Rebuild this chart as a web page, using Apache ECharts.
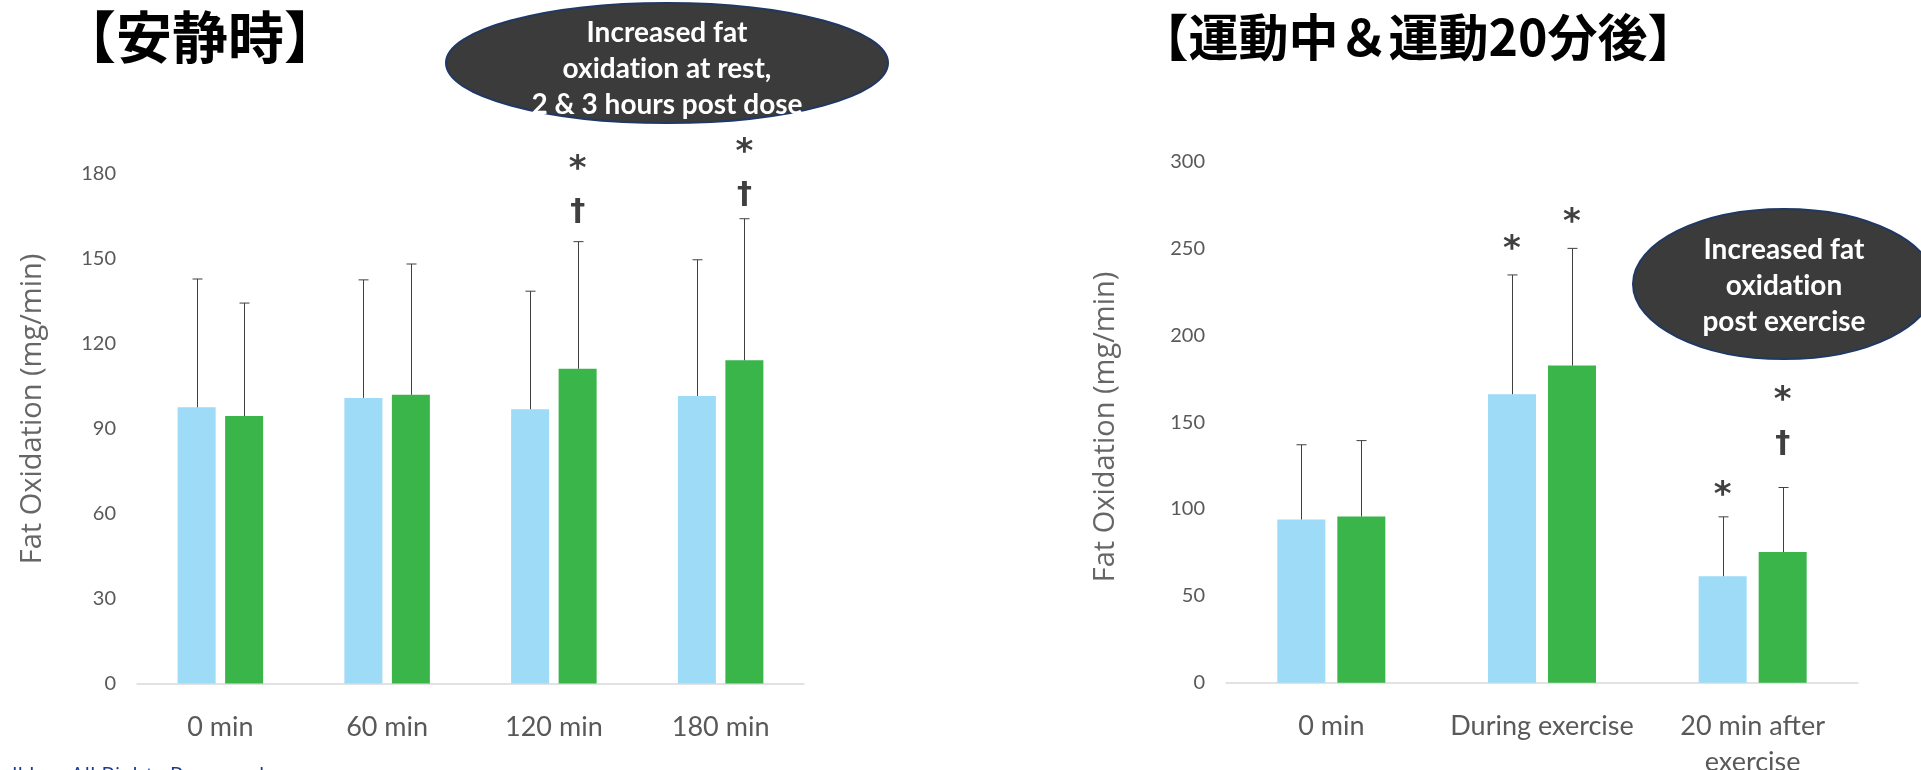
<!DOCTYPE html>
<html><head><meta charset="utf-8">
<script src="https://cdn.jsdelivr.net/npm/echarts@6/dist/echarts.min.js"></script>
<style>html,body{margin:0;padding:0;background:#fff}#c{width:1921px;height:770px}</style>
</head><body><div id="c"></div>
<script>
// ---------- data ----------
const restCategories = ['0 min', '60 min', '120 min', '180 min'];
const restPlacebo = [97.6, 100.9, 96.9, 101.6];
const restPlaceboSD = [45.3, 41.7, 41.7, 48.1];
const restSupplement = [94.5, 102.0, 111.2, 114.2];
const restSupplementSD = [39.9, 46.2, 44.9, 50.0];
const restTicks = [0, 30, 60, 90, 120, 150, 180];

const exCategories = ['0 min', 'During exercise', '20 min after\nexercise'];
const exPlacebo = [94.0, 166.1, 61.3];
const exPlaceboSD = [43.0, 68.7, 34.2];
const exSupplement = [95.7, 182.6, 75.2];
const exSupplementSD = [43.7, 67.5, 37.2];
const exTicks = [0, 50, 100, 150, 200, 250, 300];

// significance marks: [category index, bar (0 = light blue, 1 = green), symbol, level on value axis]
const restMarks = [[2, 1, '*', 183.7], [2, 1, '†', 167.2], [3, 1, '*', 189.9], [3, 1, '†', 173.3]];
const exMarks = [[1, 0, '*', 252.7], [1, 1, '*', 268.5], [2, 0, '*', 111.5], [2, 1, '*', 166.3], [2, 1, '†', 138.9]];

const restTitle = '【安静時】';
const exTitle = '【運動中＆運動20分後】';
const restNote = ['Increased fat', 'oxidation at rest,', '2 & 3 hours post dose'];
const exNote = ['Increased fat', 'oxidation', 'post exercise'];
const yName = 'Fat Oxidation (mg/min)';
const footer = 'll Inc. All Rights Reserved.';

// ---------- styles ----------
const BLUE = '#9DDBF7', GREEN = '#39B54A', GREY = '#595959', ERR = '#404040';
const LEFT_BW = 38, RIGHT_BW = 48, GAP = 0.25;
const MARK_FONT = { '*': 34, '†': 30 };
const noLig = s => s.replace(/ti/g, 't\u200Ci').replace(/fi/g, 'f\u200Ci');

const chart = echarts.init(document.getElementById('c'));

function errorRender(barW, side) {
  return function (params, api) {
    const c = api.value(0), m = api.value(1), sd = api.value(2);
    const base = api.coord([c, m]);
    const top = api.coord([c, m + sd]);
    const x = Math.round(base[0] + side * barW * (1 + GAP) / 2) + 0.5;
    const cap = 5;
    return { type: 'group', children: [
      { type: 'line', shape: { x1: x, y1: base[1], x2: x, y2: top[1] }, style: { stroke: ERR, lineWidth: 1 } },
      { type: 'line', shape: { x1: x - cap, y1: top[1], x2: x + cap, y2: top[1] }, style: { stroke: ERR, lineWidth: 1 } }
    ] };
  };
}
function markRender(marks, barW) {
  return function (params, api) {
    const d = marks[params.dataIndex];
    const p = api.coord([d[0], d[3]]);
    const fs = MARK_FONT[d[2]];
    const x = p[0] + (d[1] ? 1 : -1) * barW * (1 + GAP) / 2;
    const dy = d[2] === '*' ? 0.2 * fs : 0.08 * fs;
    return { type: 'text', x: x, y: p[1] + dy, style: { text: d[2], fill: '#404040', font: 'bold ' + fs + 'px "DejaVu Sans"', align: 'center', verticalAlign: 'middle' } };
  };
}
function errData(mean, sd) { return mean.map((v, i) => [i, v, sd[i]]); }

function xAxisCfg(cats, gi) {
  return { type: 'category', gridIndex: gi, data: cats,
    axisLine: { lineStyle: { color: '#D9D9D9', width: 1.5 } }, axisTick: { show: false },
    axisLabel: { color: GREY, fontFamily: 'Lato', fontSize: 27, lineHeight: 36, margin: 26, interval: 0 } };
}
function yAxisCfg(ticks, gi) {
  return { type: 'value', gridIndex: gi, min: ticks[0], max: ticks[ticks.length - 1], interval: ticks[1] - ticks[0],
    axisLine: { show: false }, axisTick: { show: false }, splitLine: { show: false },
    axisLabel: { color: GREY, fontFamily: 'Lato', fontSize: 20, margin: 21 } };
}
function noteText(lines, x, y) {
  return { type: 'text', x: x, y: y, z: 10, style: { text: noLig(lines.join('\n')), fill: '#fff', font: 'bold 28px Lato', lineHeight: 36, align: 'center', verticalAlign: 'middle' } };
}

chart.setOption({
  animation: false,
  grid: [
    { left: 137, right: 1921 - 804, top: 174, bottom: 770 - 683.5, containLabel: false, outerBoundsMode: 'none' },
    { left: 1226, right: 1921 - 1858, top: 161.7, bottom: 770 - 682.7, containLabel: false, outerBoundsMode: 'none' }
  ],
  xAxis: [xAxisCfg(restCategories, 0), xAxisCfg(exCategories, 1)],
  yAxis: [yAxisCfg(restTicks, 0), yAxisCfg(exTicks, 1)],
  series: [
    { type: 'bar', xAxisIndex: 0, yAxisIndex: 0, data: restPlacebo, barWidth: LEFT_BW, barGap: (GAP * 100) + '%', itemStyle: { color: BLUE } },
    { type: 'bar', xAxisIndex: 0, yAxisIndex: 0, data: restSupplement, barWidth: LEFT_BW, barGap: (GAP * 100) + '%', itemStyle: { color: GREEN } },
    { type: 'bar', xAxisIndex: 1, yAxisIndex: 1, data: exPlacebo, barWidth: RIGHT_BW, barGap: (GAP * 100) + '%', itemStyle: { color: BLUE } },
    { type: 'bar', xAxisIndex: 1, yAxisIndex: 1, data: exSupplement, barWidth: RIGHT_BW, barGap: (GAP * 100) + '%', itemStyle: { color: GREEN } },
    { type: 'custom', xAxisIndex: 0, yAxisIndex: 0, clip: false, renderItem: errorRender(LEFT_BW, -1), data: errData(restPlacebo, restPlaceboSD), encode: { x: 0, y: 1 }, z: 5 },
    { type: 'custom', xAxisIndex: 0, yAxisIndex: 0, clip: false, renderItem: errorRender(LEFT_BW, 1), data: errData(restSupplement, restSupplementSD), encode: { x: 0, y: 1 }, z: 5 },
    { type: 'custom', xAxisIndex: 1, yAxisIndex: 1, clip: false, renderItem: errorRender(RIGHT_BW, -1), data: errData(exPlacebo, exPlaceboSD), encode: { x: 0, y: 1 }, z: 5 },
    { type: 'custom', xAxisIndex: 1, yAxisIndex: 1, clip: false, renderItem: errorRender(RIGHT_BW, 1), data: errData(exSupplement, exSupplementSD), encode: { x: 0, y: 1 }, z: 5 },
    { type: 'custom', xAxisIndex: 0, yAxisIndex: 0, clip: false, renderItem: markRender(restMarks, LEFT_BW), data: restMarks.map(m => [m[0], m[3]]), encode: { x: 0, y: 1 }, z: 6 },
    { type: 'custom', xAxisIndex: 1, yAxisIndex: 1, clip: false, renderItem: markRender(exMarks, RIGHT_BW), data: exMarks.map(m => [m[0], m[3]]), encode: { x: 0, y: 1 }, z: 6 }
  ],
  graphic: [
    { type: 'text', x: 200, y: 37, style: { text: restTitle, fill: '#000', font: 'bold 56px "Noto Sans CJK JP"', align: 'center', verticalAlign: 'middle' } },
    { type: 'text', x: 1418, y: 37, style: { text: exTitle, fill: '#000', font: 'bold 50px "Noto Sans CJK JP"', align: 'center', verticalAlign: 'middle' } },
    { type: 'text', x: 33, y: 409, rotation: Math.PI / 2, style: { text: yName, fill: '#666', font: '29px "Open Sans"', align: 'center', verticalAlign: 'middle' } },
    { type: 'text', x: 1106, y: 427, rotation: Math.PI / 2, style: { text: yName, fill: '#666', font: '29px "Open Sans"', align: 'center', verticalAlign: 'middle' } },
    { type: 'ellipse', z: 9, shape: { cx: 667, cy: 63, rx: 221, ry: 60 }, style: { fill: '#3B3B3B', stroke: '#1F3864', lineWidth: 2 } },
    noteText(restNote, 667, 69),
    { type: 'ellipse', z: 9, shape: { cx: 1784, cy: 284, rx: 151, ry: 75 }, style: { fill: '#3B3B3B', stroke: '#1F3864', lineWidth: 2 } },
    noteText(exNote, 1784, 286),
    { type: 'text', x: 12, y: 766, style: { text: footer, fill: '#1F3C88', font: '22px "Open Sans"', align: 'left', verticalAlign: 'top' } }
  ]
});
</script></body></html>
